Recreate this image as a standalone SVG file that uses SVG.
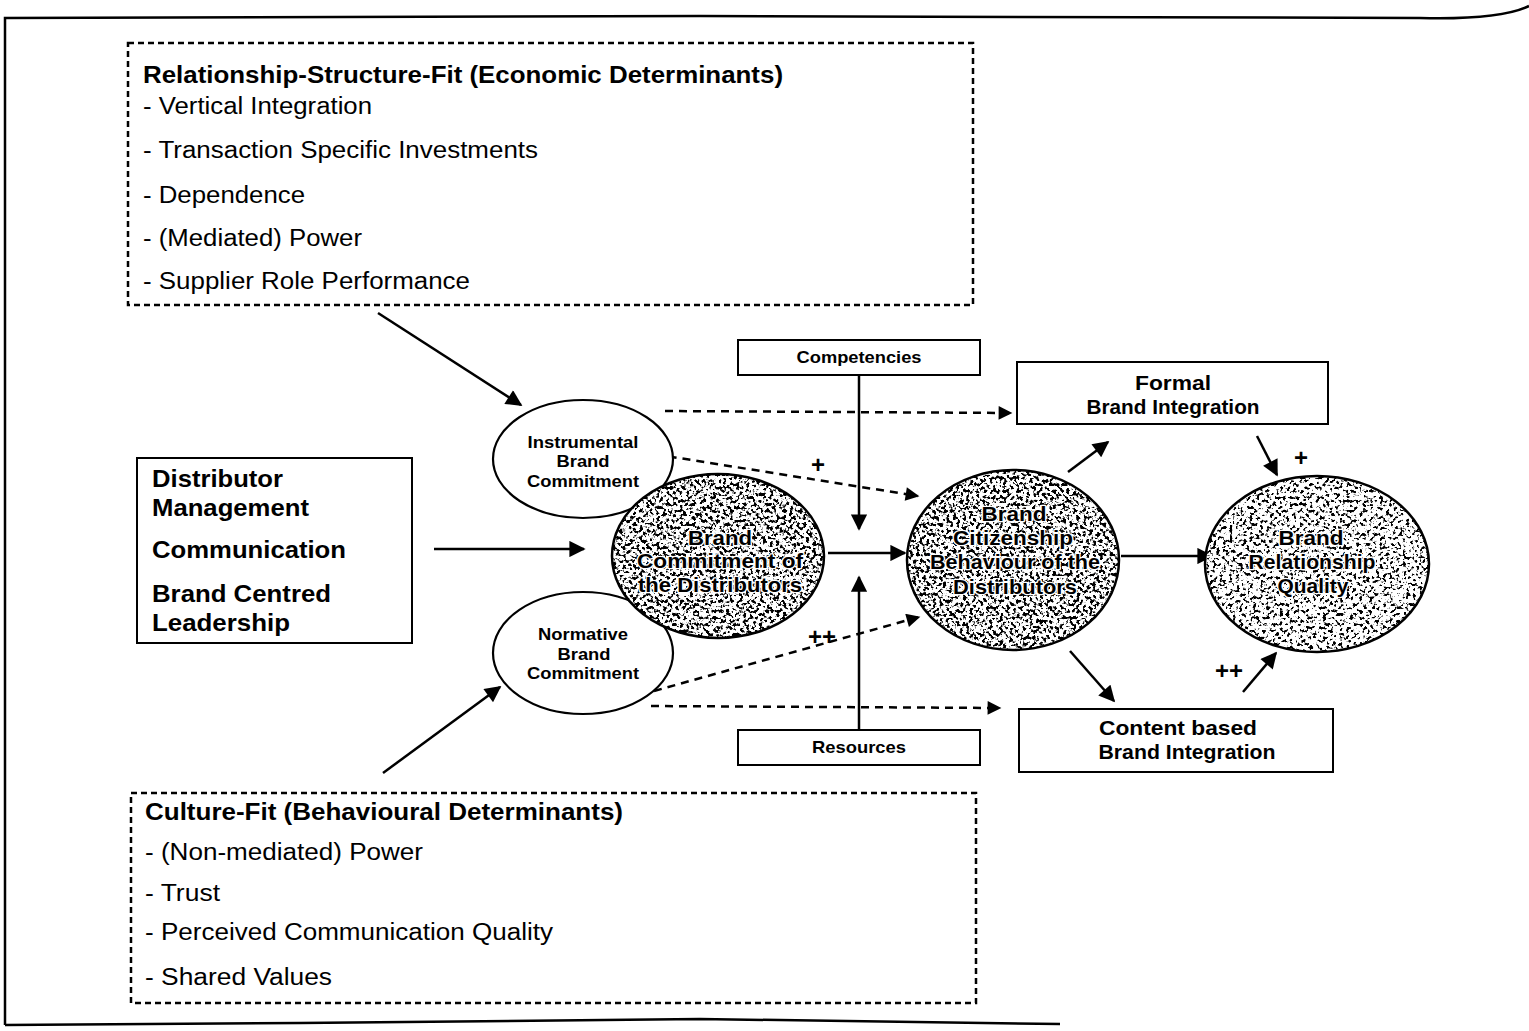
<svg xmlns="http://www.w3.org/2000/svg" width="1529" height="1031" viewBox="0 0 1529 1031">
<defs>
<style>
text{font-family:"Liberation Sans",Arial,sans-serif;fill:#000}
.item{font-size:23.5px}
.hd{font-size:23.5px;font-weight:bold}
.lb{font-size:24.5px;font-weight:bold}
.sm{font-size:17px;font-weight:bold}
.pl{font-size:24px;font-weight:bold}
.mid{font-size:21px;font-weight:bold}
.halo{font-size:21px;font-weight:900;stroke:#fff;stroke-width:2.6;paint-order:stroke;stroke-linejoin:round}
.dbox{fill:none;stroke:#000;stroke-width:2.5;stroke-dasharray:6 4}
.box{fill:#fff;stroke:#000;stroke-width:2}
.ell{fill:#fff;stroke:#000;stroke-width:2.2}
.ln{fill:none;stroke:#000;stroke-width:2.5}
.dl{fill:none;stroke:#000;stroke-width:2.5;stroke-dasharray:8 6}
</style>
<marker id="ah" viewBox="0 0 10 10" refX="9" refY="5" markerWidth="7" markerHeight="6.5" markerUnits="strokeWidth" orient="auto">
<path d="M0,0 L10,5 L0,10 z" fill="#000"/>
</marker>
<marker id="ahs" viewBox="0 0 10 10" refX="9" refY="5" markerWidth="6" markerHeight="5.5" markerUnits="strokeWidth" orient="auto">
<path d="M0,0 L10,5 L0,10 z" fill="#000"/>
</marker>
<filter id="stip" x="0" y="0" width="100%" height="100%" color-interpolation-filters="sRGB">
<feTurbulence type="fractalNoise" baseFrequency="0.3" numOctaves="2" seed="7" result="n"/>
<feColorMatrix in="n" type="matrix" values="0 0 0 0 0  0 0 0 0 0  0 0 0 0 0  -10 0 0 0 5.0" result="d"/>
<feComposite in="d" in2="SourceGraphic" operator="in"/>
</filter>
<filter id="stip2" x="0" y="0" width="100%" height="100%" color-interpolation-filters="sRGB">
<feTurbulence type="fractalNoise" baseFrequency="0.3" numOctaves="2" seed="11" result="n"/>
<feColorMatrix in="n" type="matrix" values="0 0 0 0 0  0 0 0 0 0  0 0 0 0 0  -10 0 0 0 4.6" result="d"/>
<feComposite in="d" in2="SourceGraphic" operator="in"/>
</filter>
</defs>
<rect width="1529" height="1031" fill="#fff"/>
<g id="frame">
<path d="M5,1025 L5,18 L700,16 L1420,18 Q1500,20 1529,6" fill="none" stroke="#000" stroke-width="2.5"/>
<path d="M5,1025 L300,1023 L700,1019 L1060,1024" fill="none" stroke="#000" stroke-width="2.5"/>
</g>
<g id="economic">
<rect class="dbox" x="128" y="43" width="845" height="262"/>
<text class="hd" x="143" y="83" textLength="640" lengthAdjust="spacingAndGlyphs">Relationship-Structure-Fit (Economic Determinants)</text>
<text class="item" x="143" y="114" textLength="229" lengthAdjust="spacingAndGlyphs">- Vertical Integration</text>
<text class="item" x="143" y="158" textLength="395" lengthAdjust="spacingAndGlyphs">- Transaction Specific Investments</text>
<text class="item" x="143" y="203" textLength="162" lengthAdjust="spacingAndGlyphs">- Dependence</text>
<text class="item" x="143" y="246" textLength="219" lengthAdjust="spacingAndGlyphs">- (Mediated) Power</text>
<text class="item" x="143" y="289" textLength="327" lengthAdjust="spacingAndGlyphs">- Supplier Role Performance</text>
</g>
<g id="behavioural">
<rect class="dbox" x="131" y="793" width="845" height="210"/>
<text class="hd" x="145" y="820" textLength="478" lengthAdjust="spacingAndGlyphs">Culture-Fit (Behavioural Determinants)</text>
<text class="item" x="145" y="860" textLength="278" lengthAdjust="spacingAndGlyphs">- (Non-mediated) Power</text>
<text class="item" x="145" y="901" textLength="75" lengthAdjust="spacingAndGlyphs">- Trust</text>
<text class="item" x="145" y="940" textLength="408" lengthAdjust="spacingAndGlyphs">- Perceived Communication Quality</text>
<text class="item" x="145" y="985" textLength="187" lengthAdjust="spacingAndGlyphs">- Shared Values</text>
</g>
<g id="management">
<rect class="box" x="137" y="458" width="275" height="185"/>
<text class="lb" x="152" y="487" textLength="131" lengthAdjust="spacingAndGlyphs">Distributor</text>
<text class="lb" x="152" y="516" textLength="157" lengthAdjust="spacingAndGlyphs">Management</text>
<text class="lb" x="152" y="558" textLength="194" lengthAdjust="spacingAndGlyphs">Communication</text>
<text class="lb" x="152" y="602" textLength="179" lengthAdjust="spacingAndGlyphs">Brand Centred</text>
<text class="lb" x="152" y="631" textLength="138" lengthAdjust="spacingAndGlyphs">Leadership</text>
</g>
<g id="connectors">
<line class="ln" x1="378" y1="313" x2="521" y2="405" marker-end="url(#ah)"/>
<line class="ln" x1="383" y1="773" x2="500" y2="687" marker-end="url(#ah)"/>
<line class="ln" x1="434" y1="549" x2="584" y2="549" marker-end="url(#ah)"/>
<line class="dl" x1="665" y1="411" x2="1011" y2="413" marker-end="url(#ahs)"/>
<line class="dl" x1="641" y1="452" x2="918" y2="496" marker-end="url(#ahs)"/>
<line class="dl" x1="654" y1="691" x2="919" y2="617" marker-end="url(#ahs)"/>
<line class="dl" x1="651" y1="706" x2="1000" y2="708" marker-end="url(#ahs)"/>
<line class="ln" x1="859" y1="375" x2="859" y2="529" marker-end="url(#ah)"/>
<line class="ln" x1="859" y1="730" x2="859" y2="577" marker-end="url(#ah)"/>
<line class="ln" x1="828" y1="553" x2="905" y2="553" marker-end="url(#ah)"/>
<line class="ln" x1="1121" y1="556" x2="1212" y2="556" marker-end="url(#ah)"/>
<line class="ln" x1="1068" y1="472" x2="1108" y2="442" marker-end="url(#ah)"/>
<line class="ln" x1="1070" y1="651" x2="1114" y2="701" marker-end="url(#ah)"/>
<line class="ln" x1="1257" y1="436" x2="1277" y2="475" marker-end="url(#ah)"/>
<line class="ln" x1="1243" y1="692" x2="1276" y2="653" marker-end="url(#ah)"/>
<text class="pl" x="818" y="473" text-anchor="middle">+</text>
<text class="pl" x="822" y="645" text-anchor="middle">++</text>
<text class="pl" x="1301" y="466" text-anchor="middle">+</text>
<text class="pl" x="1229" y="679" text-anchor="middle">++</text>
</g>
<g id="instrumental">
<ellipse class="ell" cx="583" cy="459" rx="90" ry="59"/>
<text class="sm" x="583" y="448" text-anchor="middle" textLength="111" lengthAdjust="spacingAndGlyphs">Instrumental</text>
<text class="sm" x="583" y="467" text-anchor="middle" textLength="53" lengthAdjust="spacingAndGlyphs">Brand</text>
<text class="sm" x="583" y="487" text-anchor="middle" textLength="112" lengthAdjust="spacingAndGlyphs">Commitment</text>
</g>
<g id="normative">
<ellipse class="ell" cx="583" cy="653" rx="90" ry="61"/>
<text class="sm" x="583" y="640" text-anchor="middle" textLength="90" lengthAdjust="spacingAndGlyphs">Normative</text>
<text class="sm" x="584" y="660" text-anchor="middle" textLength="53" lengthAdjust="spacingAndGlyphs">Brand</text>
<text class="sm" x="583" y="679" text-anchor="middle" textLength="112" lengthAdjust="spacingAndGlyphs">Commitment</text>
</g>
<g id="commitment">
<ellipse cx="718" cy="556" rx="106" ry="82" fill="#fff"/>
<ellipse cx="718" cy="556" rx="106" ry="82" fill="#000" filter="url(#stip)"/>
<ellipse cx="718" cy="556" rx="106" ry="82" fill="none" stroke="#000" stroke-width="2.5"/>
<text class="halo" x="720" y="545" text-anchor="middle" textLength="64" lengthAdjust="spacingAndGlyphs">Brand</text>
<text class="halo" x="720" y="568" text-anchor="middle" textLength="166" lengthAdjust="spacingAndGlyphs">Commitment of</text>
<text class="halo" x="720" y="592" text-anchor="middle" textLength="164" lengthAdjust="spacingAndGlyphs">the Distributors</text>
</g>
<g id="citizenship">
<ellipse cx="1013" cy="560" rx="106" ry="90" fill="#fff"/>
<ellipse cx="1013" cy="560" rx="106" ry="90" fill="#000" filter="url(#stip)"/>
<ellipse cx="1013" cy="560" rx="106" ry="90" fill="none" stroke="#000" stroke-width="2.5"/>
<text class="halo" x="1014" y="521" text-anchor="middle" textLength="65" lengthAdjust="spacingAndGlyphs">Brand</text>
<text class="halo" x="1013" y="545" text-anchor="middle" textLength="120" lengthAdjust="spacingAndGlyphs">Citizenship</text>
<text class="halo" x="1015" y="569" text-anchor="middle" textLength="170" lengthAdjust="spacingAndGlyphs">Behaviour of the</text>
<text class="halo" x="1015" y="594" text-anchor="middle" textLength="124" lengthAdjust="spacingAndGlyphs">Distributors</text>
</g>
<g id="relationship">
<ellipse cx="1317" cy="564" rx="112" ry="88" fill="#fff"/>
<ellipse cx="1317" cy="564" rx="112" ry="88" fill="#000" filter="url(#stip2)"/>
<ellipse cx="1317" cy="564" rx="112" ry="88" fill="none" stroke="#000" stroke-width="2.5"/>
<text class="halo" x="1311" y="545" text-anchor="middle" textLength="65" lengthAdjust="spacingAndGlyphs">Brand</text>
<text class="halo" x="1312" y="569" text-anchor="middle" textLength="127" lengthAdjust="spacingAndGlyphs">Relationship</text>
<text class="halo" x="1313" y="593" text-anchor="middle" textLength="71" lengthAdjust="spacingAndGlyphs">Quality</text>
</g>
<g id="competencies">
<rect class="box" x="738" y="340" width="242" height="35"/>
<text class="sm" x="859" y="363" text-anchor="middle" textLength="125" lengthAdjust="spacingAndGlyphs">Competencies</text>
</g>
<g id="resources">
<rect class="box" x="738" y="730" width="242" height="35"/>
<text class="sm" x="859" y="753" text-anchor="middle" textLength="94" lengthAdjust="spacingAndGlyphs">Resources</text>
</g>
<g id="formal">
<rect class="box" x="1017" y="362" width="311" height="62"/>
<text class="mid" x="1173" y="390" text-anchor="middle" textLength="76" lengthAdjust="spacingAndGlyphs">Formal</text>
<text class="mid" x="1173" y="414" text-anchor="middle" textLength="173" lengthAdjust="spacingAndGlyphs">Brand Integration</text>
</g>
<g id="content">
<rect class="box" x="1019" y="709" width="314" height="63"/>
<text class="mid" x="1178" y="735" text-anchor="middle" textLength="158" lengthAdjust="spacingAndGlyphs">Content based</text>
<text class="mid" x="1187" y="759" text-anchor="middle" textLength="177" lengthAdjust="spacingAndGlyphs">Brand Integration</text>
</g>
</svg>
